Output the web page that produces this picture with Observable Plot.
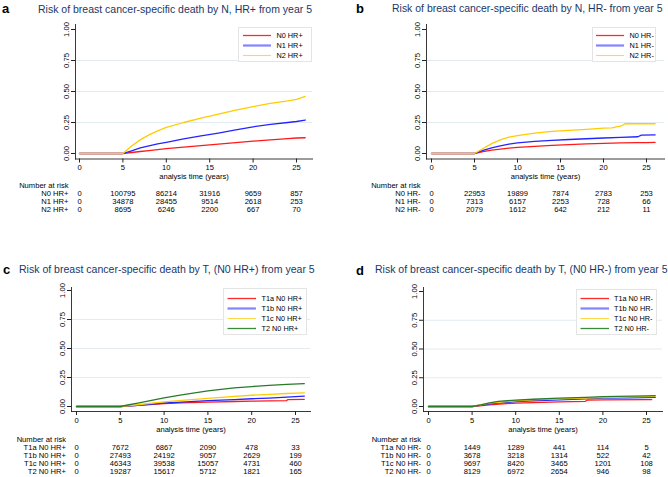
<!DOCTYPE html>
<html><head><meta charset="utf-8">
<script src="https://cdn.jsdelivr.net/npm/d3@7"></script>
<script src="https://cdn.jsdelivr.net/npm/@observablehq/plot@0.6"></script>
<style>
body{margin:0;background:#fff;}
#root{position:relative;width:668px;height:477px;overflow:hidden;font-family:"Liberation Sans",Arial,sans-serif;background:#fff;}
.box{position:absolute;}
.title{position:absolute;white-space:nowrap;font-size:10.75px;line-height:1;color:#1a3768;}
.letter{position:absolute;font-weight:bold;font-size:13px;line-height:1;color:#000;}
.legend{position:absolute;border:1px solid #e4e4e4;background:#fff;box-sizing:border-box;}
svg{display:block;overflow:visible;}
</style></head><body><div id="root"></div><script>
// ---------- shared ticks ----------
const riskYears = [0, 5, 10, 15, 20, 25];
const xTicks = [0, 5, 10, 15, 20, 25];
const yTicks = [0, 0.25, 0.5, 0.75, 1];
const gridValues = [0.25, 0.5, 0.75];
const riskHeader = "Number at risk";
const xTitle = "analysis time (years)";

// ---------- panel a ----------
const aTitle = "Risk of breast cancer-specific death by N, HR+ from year 5";
const aNames = ["N0 HR+", "N1 HR+", "N2 HR+"];
const aN0T = [0,5,6,7,8,9,10,12,14,16,18,20,22,24,25,26];
const aN0V = [0,0,0.008,0.016,0.024,0.032,0.04,0.052,0.064,0.076,0.088,0.1,0.11,0.12,0.125,0.127];
const aN1T = [0,5,6,7,8,9,10,12,14,16,18,20,22,24,25,26];
const aN1V = [0,0,0.022,0.045,0.062,0.077,0.09,0.118,0.143,0.165,0.19,0.215,0.235,0.25,0.258,0.27];
const aN2T = [0,5,6,7,8,9,10,12,14,16,18,20,22,24,25,25.6,26];
const aN2V = [0,0,0.06,0.11,0.15,0.183,0.21,0.25,0.285,0.318,0.35,0.378,0.405,0.425,0.437,0.45,0.46];
const aRiskN0 = [0,100795,86214,31916,9659,857];
const aRiskN1 = [0,34878,28455,9514,2618,253];
const aRiskN2 = [0,8695,6246,2200,667,70];

// ---------- panel b ----------
const bTitle = "Risk of breast cancer-specific death by N, HR- from year 5";
const bNames = ["N0 HR-", "N1 HR-", "N2 HR-"];
const bN0T = [0,5,6,7,8,9,10,12,14,16,18,20,22,24,25,26];
const bN0V = [0,0,0.015,0.027,0.036,0.044,0.05,0.058,0.065,0.071,0.077,0.082,0.085,0.087,0.088,0.089];
const bN1T = [0,5,6,7,8,9,10,12,14,16,18,20,22,24,24.4,26];
const bN1V = [0,0,0.025,0.045,0.062,0.075,0.085,0.097,0.106,0.113,0.119,0.125,0.13,0.135,0.148,0.15];
const bN2T = [0,5,6,7,8,9,10,11,12,14,16,18,20,21,21.5,22,22.5,26];
const bN2V = [0,0,0.04,0.08,0.11,0.132,0.145,0.155,0.165,0.178,0.186,0.195,0.204,0.206,0.215,0.22,0.24,0.24];
const bRiskN0 = [0,22953,19899,7874,2783,253];
const bRiskN1 = [0,7313,6157,2253,728,66];
const bRiskN2 = [0,2079,1612,642,212,11];

// ---------- panel c ----------
const cTitle = "Risk of breast cancer-specific death by T, (N0 HR+) from year 5";
const cNames = ["T1a N0 HR+", "T1b N0 HR+", "T1c N0 HR+", "T2 N0 HR+"];
const cT1aT = [0,5,7,10,12,15,18,20,22,24,24.1,26];
const cT1aV = [0,0,0.01,0.025,0.031,0.038,0.043,0.046,0.048,0.05,0.06,0.062];
const cT1bT = [0,5,7,10,12,15,18,20,22,24,25,26];
const cT1bV = [0,0,0.01,0.03,0.038,0.05,0.06,0.067,0.073,0.08,0.085,0.089];
const cT1cT = [0,5,7,10,12,15,18,20,22,24,25,26];
const cT1cV = [0,0,0.015,0.04,0.053,0.07,0.087,0.097,0.105,0.112,0.116,0.118];
const cT2T = [0,5,6,7,8,10,12,15,18,20,22,24,26];
const cT2V = [0,0,0.015,0.03,0.045,0.075,0.1,0.135,0.16,0.172,0.182,0.19,0.197];
const cRiskT1a = [0,7672,6867,2090,478,33];
const cRiskT1b = [0,27493,24192,9057,2629,199];
const cRiskT1c = [0,46343,39538,15057,4731,460];
const cRiskT2 = [0,19287,15617,5712,1821,165];

// ---------- panel d ----------
const dTitle = "Risk of breast cancer-specific death by T, (N0 HR-) from year 5";
const dNames = ["T1a N0 HR-", "T1b N0 HR-", "T1c N0 HR-", "T2 N0 HR-"];
const dT1aT = [0,5,7,10,12,15,18,18.2,20,25,25.6];
const dT1aV = [0,0,0.015,0.03,0.034,0.04,0.045,0.055,0.058,0.06,0.06];
const dT1bT = [0,5,7,10,12,15,18,20,23,26];
const dT1bV = [0,0,0.022,0.042,0.05,0.058,0.066,0.072,0.076,0.08];
const dT1cT = [0,5,7,10,12,15,18,20,25,26];
const dT1cV = [0,0,0.03,0.05,0.058,0.066,0.074,0.078,0.085,0.088];
const dT2T = [0,5,6,7,8,10,12,15,18,20,25,26];
const dT2V = [0,0,0.015,0.032,0.045,0.056,0.063,0.072,0.08,0.085,0.092,0.094];
const dRiskT1a = [0,1449,1289,441,114,5];
const dRiskT1b = [0,3678,3218,1314,522,42];
const dRiskT1c = [0,9697,8420,3465,1201,108];
const dRiskT2 = [0,8129,6972,2654,946,98];

// ---------- styles ----------
const lineColors = ["#ff1a1a", "#2424ff", "#ffcc00", "#2a7a2a"];
const legendColors = ["#ff2a2a", "#8484ff", "#ffd84a", "#3b8a3b"];
const legendWidths = [1.3, 2.2, 1.1, 1.3];
const FONT = "'Liberation Sans', Arial, sans-serif";

// ---------- layout (pixels) ----------
const layouts = {
  a: {left:0, top:0, H:178, ax0:75, px0:79, px25:296, pr:312, pyt:24, py1:29, py0:153, pyb:158.5,
      titleX:38, titleCap:5, titleW:274, letter:"a", letterX:2, letterBase:13.5,
      legend:{x:238, y:27, w:74, h:35, lx1:4, lx2:32, tx:37, r0:7, r1:27},
      riskTop:178, riskR0:184, riskR1:209, labelEnd:68, xOff:18},
  b: {left:334, top:0, H:178, ax0:426, px0:431, px25:646, pr:664, pyt:24, py1:29, py0:153, pyb:158.5,
      titleX:392, titleCap:5, titleW:271, letter:"b", letterX:356, letterBase:13.5,
      legend:{x:592, y:27, w:64, h:35, lx1:3, lx2:31, tx:36, r0:7, r1:27},
      riskTop:178, riskR0:184, riskR1:209, labelEnd:420, xOff:18},
  c: {left:0, top:250, H:178, ax0:71, px0:76, px25:295, pr:310, pyt:287, py1:290, py0:406, pyb:411,
      titleX:19, titleCap:265, titleW:296, letter:"c", letterX:3, letterBase:274.5,
      legend:{x:223, y:288, w:84, h:47, lx1:3.5, lx2:32, tx:37, r0:8, r1:39},
      riskTop:430, riskR0:438, riskR1:471.5, labelEnd:65.5, xOff:18},
  d: {left:334, top:250, H:178, ax0:423, px0:428, px25:646, pr:662, pyt:287, py1:291, py0:406, pyb:411,
      titleX:375, titleCap:265, titleW:293, letter:"d", letterX:356, letterBase:275.5,
      legend:{x:576, y:289, w:81, h:46, lx1:3.5, lx2:32, tx:36.5, r0:7, r1:38.5},
      riskTop:430, riskR0:438.3, riskR1:472, labelEnd:420.5, xOff:18}
};

const panels = [
  {L: layouts.a, title: aTitle, names: aNames,
   series: [[aN0T, aN0V], [aN1T, aN1V], [aN2T, aN2V]], risk: [aRiskN0, aRiskN1, aRiskN2]},
  {L: layouts.b, title: bTitle, names: bNames,
   series: [[bN0T, bN0V], [bN1T, bN1V], [bN2T, bN2V]], risk: [bRiskN0, bRiskN1, bRiskN2]},
  {L: layouts.c, title: cTitle, names: cNames,
   series: [[cT1aT, cT1aV], [cT1bT, cT1bV], [cT1cT, cT1cV], [cT2T, cT2V]], risk: [cRiskT1a, cRiskT1b, cRiskT1c, cRiskT2]},
  {L: layouts.d, title: dTitle, names: dNames,
   series: [[dT1aT, dT1aV], [dT1bT, dT1bV], [dT1cT, dT1cV], [dT2T, dT2V]], risk: [dRiskT1a, dRiskT1b, dRiskT1c, dRiskT2]}
];

const root = document.getElementById("root");
const W = 334;

function place(el, x, y) {
  const d = document.createElement("div");
  d.className = "box";
  d.style.left = x + "px";
  d.style.top = y + "px";
  d.appendChild(el);
  root.appendChild(d);
}

for (const p of panels) {
  const L = p.L;
  // letter + title
  const lt = document.createElement("div");
  lt.className = "letter"; lt.textContent = L.letter;
  lt.style.left = L.letterX + "px"; lt.style.top = (L.letterBase - 0.8465 * 13) + "px";
  root.appendChild(lt);
  const tt = document.createElement("div");
  tt.className = "title"; tt.textContent = p.title;
  root.appendChild(tt);
  const measured = tt.getBoundingClientRect().width;
  const fs = 10.75 * (measured > 0 ? L.titleW / measured : 1);
  tt.style.fontSize = fs + "px";
  tt.style.left = L.titleX + "px"; tt.style.top = (L.titleCap - 0.13 * fs) + "px";

  // main chart
  const lineData = p.series.map(([ts, vs], i) => ts.map((t, j) => ({t, v: vs[j], name: p.names[i]})));
  const main = Plot.plot({
    width: W, height: L.H,
    marginLeft: L.ax0 - L.left, marginRight: L.left + W - L.pr,
    marginTop: L.pyt - L.top, marginBottom: L.top + L.H - L.pyb,
    x: {domain: [0, 25], range: [L.px0 - L.left, L.px25 - L.left]},
    y: {domain: [0, 1], range: [L.py0 - L.top, L.py1 - L.top]},
    style: {fontFamily: FONT, fontSize: "7.6px", color: "#000", background: "transparent"},
    marks: [
      Plot.ruleY(gridValues, {stroke: "#e2ebf0", strokeWidth: 1}),
      Plot.frame({anchor: "left", stroke: "#222", strokeWidth: 0.9}),
      Plot.frame({anchor: "bottom", stroke: "#222", strokeWidth: 0.9}),
      Plot.axisX({ticks: xTicks, tickSize: 4, tickPadding: 2, label: null, stroke: "#222"}),
      Plot.axisY({ticks: yTicks, tickSize: 4, tickPadding: 3, tickRotate: -90, tickFormat: d3.format(".2f"), label: null, stroke: "#222"}),
      Plot.text([xTitle], {text: d => d, frameAnchor: "bottom", dy: L.xOff, lineAnchor: "middle", fill: "#000"}),
      ...lineData.map((d, i) => Plot.line(d, {x: "t", y: "v", stroke: lineColors[i], strokeWidth: 1.3}))
    ]
  });
  place(main, L.left, L.top);

  // legend
  const lg = L.legend;
  const legend = Plot.plot({
    width: lg.w - 2, height: lg.h - 2, margin: 0,
    x: {domain: [0, 1], range: [lg.lx1, lg.lx2], axis: null},
    y: {type: "point", padding: 0, domain: p.names, range: [lg.r0, lg.r1], axis: null},
    style: {fontFamily: FONT, fontSize: "7.3px", color: "#000", background: "transparent"},
    marks: [
      ...p.names.map((n, i) => Plot.ruleY([n], {x1: 0, x2: 1, stroke: legendColors[i], strokeWidth: legendWidths[i]})),
      Plot.text(p.names, {x: 1, y: d => d, text: d => d, dx: lg.tx - lg.lx2, textAnchor: "start", fill: "#000"})
    ]
  });
  const lgBox = document.createElement("div");
  lgBox.className = "legend";
  lgBox.style.left = lg.x + "px"; lgBox.style.top = lg.y + "px";
  lgBox.style.width = lg.w + "px"; lgBox.style.height = lg.h + "px";
  lgBox.appendChild(legend);
  root.appendChild(lgBox);

  // number at risk
  const riskData = p.risk.flatMap((r, i) => riskYears.map((t, j) => ({t, n: r[j], row: p.names[i]})));
  const risk = Plot.plot({
    width: W, height: 47,
    marginLeft: L.labelEnd - L.left, marginRight: 0, marginTop: 0, marginBottom: 0,
    x: {domain: [0, 25], range: [L.px0 - L.left, L.px25 - L.left], axis: null},
    y: {type: "point", padding: 0, domain: [riskHeader, ...p.names], range: [L.riskR0 - L.riskTop, L.riskR1 - L.riskTop]},
    style: {fontFamily: FONT, fontSize: "7.6px", color: "#000", background: "transparent"},
    marks: [
      Plot.axisY({tickSize: 0, tickPadding: 0, label: null}),
      Plot.text(riskData, {x: "t", y: "row", text: d => String(d.n), fill: "#000"})
    ]
  });
  place(risk, L.left, L.riskTop);
}
</script></body></html>
